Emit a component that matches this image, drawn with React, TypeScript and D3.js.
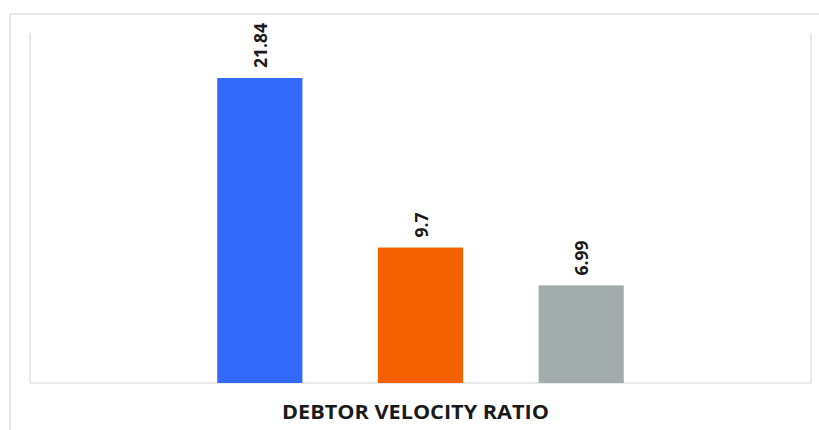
import React from "react";
import * as d3 from "d3";

const categories = ["DEBTOR VELOCITY RATIO"];
const seriesNames = ["Series A", "Series B", "Series C"];
const seriesValues = [21.84, 9.7, 6.99];
const seriesColors = ["#3369FA", "#F56000", "#A1ACAB"];

const W = 819;
const H = 430;
const plot = { left: 30, right: 811, top: 33, bottom: 383 };

export default function App() {
  const x0 = d3
    .scaleBand<string>()
    .domain(categories)
    .range([plot.left, plot.right])
    .padding(0.2367);

  const x1 = d3
    .scaleBand<string>()
    .domain(seriesNames)
    .range([0, x0.bandwidth()])
    .paddingInner(0.47)
    .paddingOuter(0.235);

  const y = d3.scaleLinear().domain([0, 21.84]).range([plot.bottom, 78]);

  const labelFont = "'Open Sans', 'DejaVu Sans', sans-serif";

  return (
    <svg
      width={W}
      height={H}
      style={{ position: "absolute", left: 0, top: 0, background: "#fff" }}
    >
      {/* outer frame */}
      <line x1={10} y1={14} x2={W} y2={14} stroke="#E8E8E8" strokeWidth={2} />
      <line x1={10} y1={14} x2={10} y2={H} stroke="#E8E8E8" strokeWidth={2} />

      {/* plot area borders */}
      <line x1={plot.left} y1={plot.top} x2={plot.left} y2={plot.bottom} stroke="#E2E2E2" strokeWidth={1.5} />
      <line x1={plot.right} y1={plot.top} x2={plot.right} y2={plot.bottom} stroke="#E2E2E2" strokeWidth={1.5} />
      <line x1={plot.left} y1={plot.bottom} x2={plot.right} y2={plot.bottom} stroke="#E2E2E2" strokeWidth={1.5} />

      {categories.map((c) => (
        <g key={c} transform={`translate(${x0(c)},0)`}>
          {seriesNames.map((s, i) => {
            const v = seriesValues[i];
            const bx = x1(s) as number;
            const bw = x1.bandwidth();
            const top = y(v);
            const cx = bx + bw / 2;
            return (
              <g key={s}>
                <rect x={bx} y={top} width={bw} height={plot.bottom - top} fill={seriesColors[i]} />
                <text
                  transform={`translate(${cx + 1},${top - 10}) rotate(-90)`}
                  dy="0.36em"
                  textAnchor="start"
                  fontFamily={labelFont}
                  fontWeight={700}
                  fontSize={17.5}
                  fill="#1a1a1a"
                >
                  {v}
                </text>
              </g>
            );
          })}
          <text
            x={x0.bandwidth() / 2 - 5}
            y={418.5}
            textAnchor="middle"
            fontFamily={labelFont}
            fontWeight={700}
            fontSize={19.5}
            fill="#1a1a1a"
            textLength={267}
            lengthAdjust="spacingAndGlyphs"
          >
            {c}
          </text>
        </g>
      ))}
    </svg>
  );
}
